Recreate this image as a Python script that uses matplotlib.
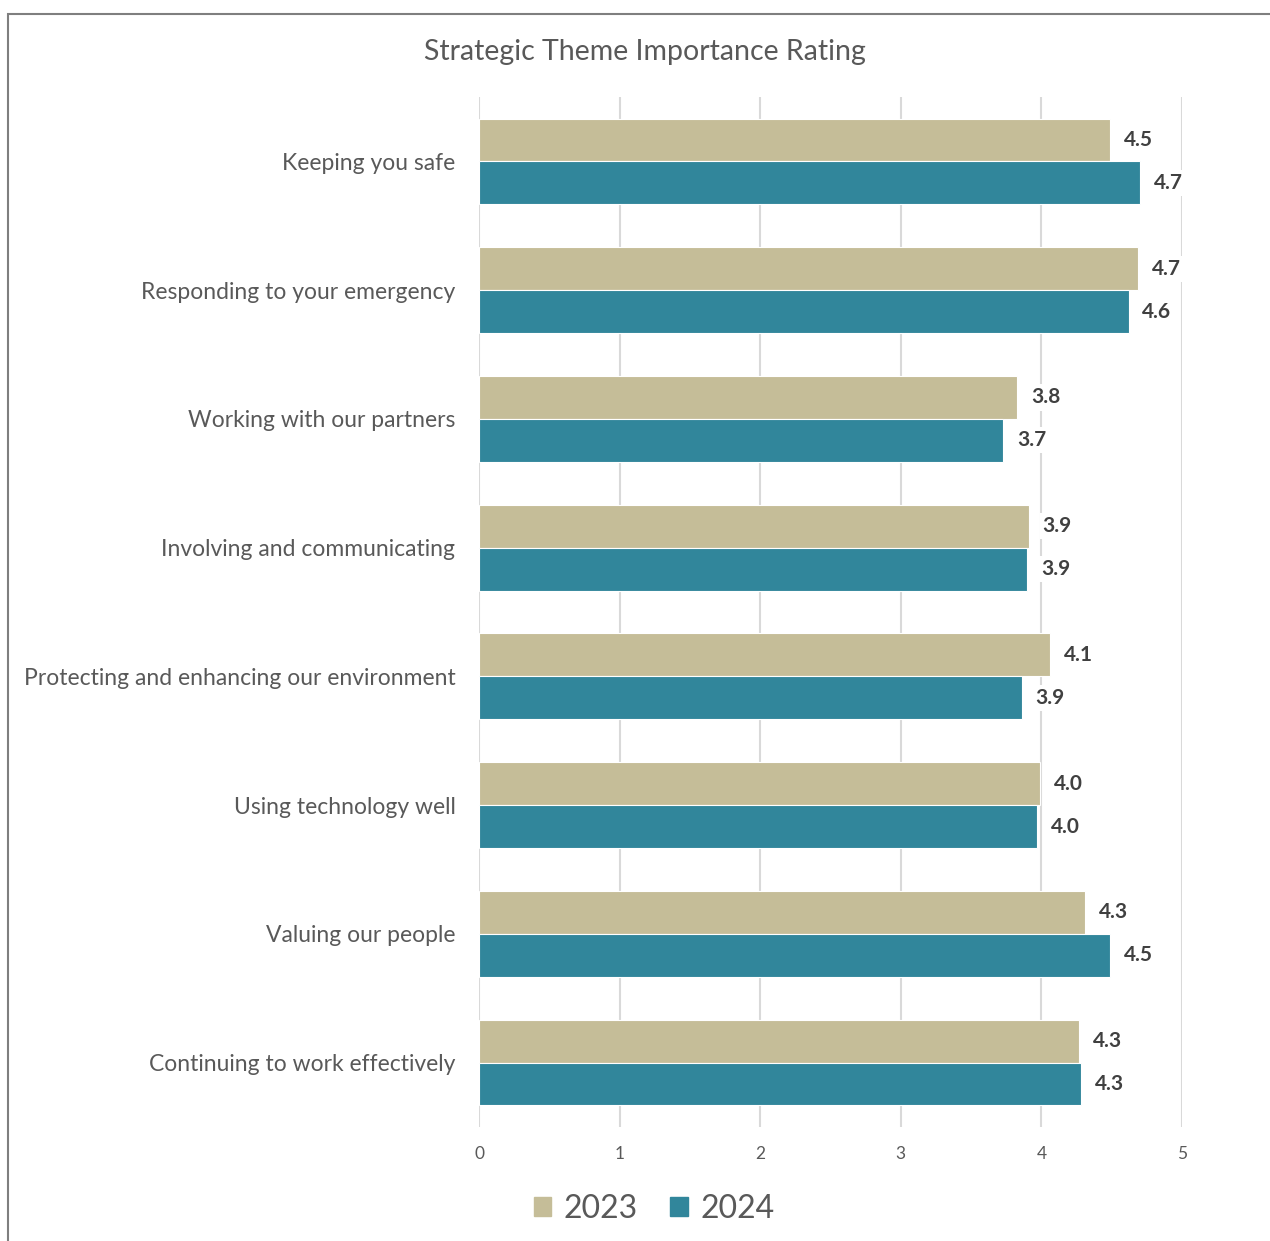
import matplotlib.pyplot as plt
import matplotlib.patches as mpatches
import numpy as np

plt.rcParams['font.family'] = ['Lato', 'DejaVu Sans']

themes = [
    "Keeping you safe",
    "Responding to your emergency",
    "Working with our partners",
    "Involving and communicating",
    "Protecting and enhancing our environment",
    "Using technology well",
    "Valuing our people",
    "Continuing to work effectively",
]
rating_2023 = [4.49, 4.69, 3.83, 3.91, 4.06, 3.99, 4.31, 4.27]
rating_2024 = [4.70, 4.62, 3.73, 3.90, 3.86, 3.97, 4.49, 4.28]
years = ["2023", "2024"]
colors = ["#C5BD98", "#31869B"]

fig = plt.figure(figsize=(12.7, 12.41), dpi=100)
ax = fig.add_axes([0.3772, 0.0919, 0.5535, 0.8299])

y = np.arange(len(themes))
h = 1 / 3
for vals, off, col, name in [(rating_2023, -h / 2, colors[0], years[0]),
                             (rating_2024, h / 2, colors[1], years[1])]:
    bars = ax.barh(y + off, vals, height=h, color=col, edgecolor="white",
                   linewidth=0.8, label=name, zorder=2)
    for b, v in zip(bars, vals):
        ax.annotate(f"{v:.1f}", (b.get_width(), b.get_y() + b.get_height() / 2),
                    xytext=(10, 0), textcoords="offset points", va="center",
                    ha="left", fontsize=15, fontweight="bold", color="#404040",
                    bbox=dict(boxstyle="square,pad=0.15", fc="white", ec="none"),
                    zorder=3)

ax.set_xlim(0, 5)
ax.set_ylim(len(themes) - 0.5, -0.5)
ax.set_xticks(range(6))
ax.set_yticks(y)
ax.set_yticklabels(themes, fontsize=16.5, color="#595959")
ax.tick_params(axis="x", labelsize=12.5, colors="#595959", length=0, pad=14)
ax.tick_params(axis="y", length=0, pad=17)
ax.grid(axis="x", color="#D9D9D9", linewidth=1.5, zorder=0)
ax.set_axisbelow(True)
for s in ax.spines.values():
    s.set_visible(False)

fig.text(0.508, 0.958, "Strategic Theme Importance Rating", ha="center",
         va="center", fontsize=20.5, color="#595959")

handles = [mpatches.Patch(color=c, label=n) for c, n in zip(colors, years)]
fig.legend(handles=handles, loc="center", bbox_to_anchor=(0.515, 0.026),
           ncol=2, frameon=False, fontsize=23, handlelength=0.55,
           handleheight=0.55, handletextpad=0.4, columnspacing=1.0,
           labelcolor="#595959")

fig.patches.append(mpatches.Rectangle((8 / 1270, -0.01), 1.0, 1 - 14 / 1241 + 0.01,
                                      transform=fig.transFigure, fill=False,
                                      edgecolor="#7F7F7F", linewidth=1.5))

fig.savefig("out.png", dpi=100)
